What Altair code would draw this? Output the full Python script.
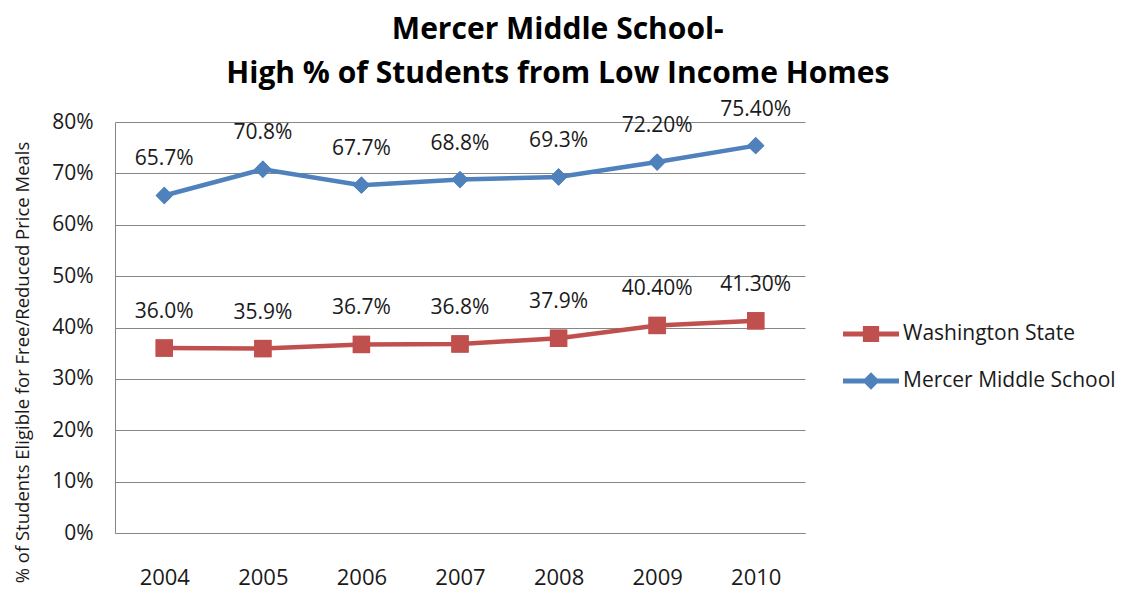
import altair as alt
import pandas as pd

years = ["2004", "2005", "2006", "2007", "2008", "2009", "2010"]
mercer_values = [65.7, 70.8, 67.7, 68.8, 69.3, 72.2, 75.4]
mercer_labels = ["65.7%", "70.8%", "67.7%", "68.8%", "69.3%", "72.20%", "75.40%"]
wa_values = [36.0, 35.9, 36.7, 36.8, 37.9, 40.4, 41.3]
wa_labels = ["36.0%", "35.9%", "36.7%", "36.8%", "37.9%", "40.40%", "41.30%"]
series_names = ["Washington State", "Mercer Middle School"]
series_colors = ["#C0504D", "#4F81BD"]
y_ticks = [0, 10, 20, 30, 40, 50, 60, 70, 80]
title_lines = ["Mercer Middle School-", "High % of Students from Low Income Homes"]
y_title = "% of Students Eligible for Free/Reduced Price Meals"

wa_df = pd.DataFrame({"year": years, "series": series_names[0], "value": wa_values, "label": wa_labels})
mms_df = pd.DataFrame({"year": years, "series": series_names[1], "value": mercer_values, "label": mercer_labels})

FONT = "Open Sans"
GRID = "#868686"
TXT = "#1a1a1a"

WA_PATH = "M-1,-0.085H1V0.085H-1Z M-0.29,-0.29H0.29V0.29H-0.29Z"
MMS_PATH = "M-1,-0.085H1V0.085H-1Z M0,-0.31L0.31,0L0,0.31L-0.31,0Z"

x_enc = alt.X(
    "year:O",
    scale=alt.Scale(domain=years, padding=0.5),
    axis=alt.Axis(
        title=None, labelAngle=0, ticks=False, grid=False,
        domainColor=GRID, labelFontSize=22, labelFont=FONT,
        labelColor=TXT, labelPadding=34,
    ),
)
y_enc = alt.Y(
    "value:Q",
    scale=alt.Scale(domain=[0, 80], nice=False, zero=True),
    axis=alt.Axis(
        values=y_ticks, labelExpr="datum.value + '%'", ticks=False,
        grid=True, gridColor=GRID, domainColor=GRID,
        labelFontSize=21, labelFont=FONT, labelColor=TXT, labelPadding=22,
        title=y_title, titleFont=FONT, titleFontSize=18.5, titleFontWeight="normal",
        titleColor=TXT, titlePadding=19, titleY=240,
    ),
)


def series_layer(df, idx, shape, path, legend_y):
    cscale = alt.Scale(domain=[series_names[idx]], range=[series_colors[idx]])
    legend = alt.Legend(
        title=None, orient="none", legendX=728, legendY=legend_y,
        symbolType=path, symbolSize=3136, symbolOpacity=1, symbolStrokeWidth=0,
        symbolFillColor=series_colors[idx], labelLimit=0,
        labelFont=FONT, labelFontSize=21, labelColor=TXT, labelOffset=4,
    )
    color = alt.Color("series:N", scale=cscale, legend=legend)
    pts = alt.Chart(df).mark_point(filled=True, opacity=1, size=300, shape=shape).encode(
        x=x_enc, y=y_enc, color=color
    )
    line = alt.Chart(df).mark_line(strokeWidth=4.5).encode(
        x=x_enc, y=y_enc, color=color
    )
    txt = alt.Chart(df).mark_text(
        dy=-36, fontSize=21, font=FONT, color=TXT, baseline="middle"
    ).encode(x=x_enc, y=y_enc, text="label:N")
    return alt.layer(pts, line, pts, txt)


wa_layer = series_layer(wa_df, 0, "square", WA_PATH, 184)
mms_layer = series_layer(mms_df, 1, "diamond", MMS_PATH, 231)

chart = alt.layer(wa_layer, mms_layer).resolve_scale(color="independent").properties(
    width=690, height=411,
    title=alt.TitleParams(
        title_lines, font=FONT, fontSize=30, fontWeight="bold", color="#000000",
        anchor="middle", frame="bounds", lineHeight=44, offset=10, dx=-7,
    ),
    padding={"left": 5, "top": 6, "right": 2, "bottom": 4},
).configure_view(stroke=None)

chart.save("out.html", embed_options={"renderer": "svg", "actions": False})
